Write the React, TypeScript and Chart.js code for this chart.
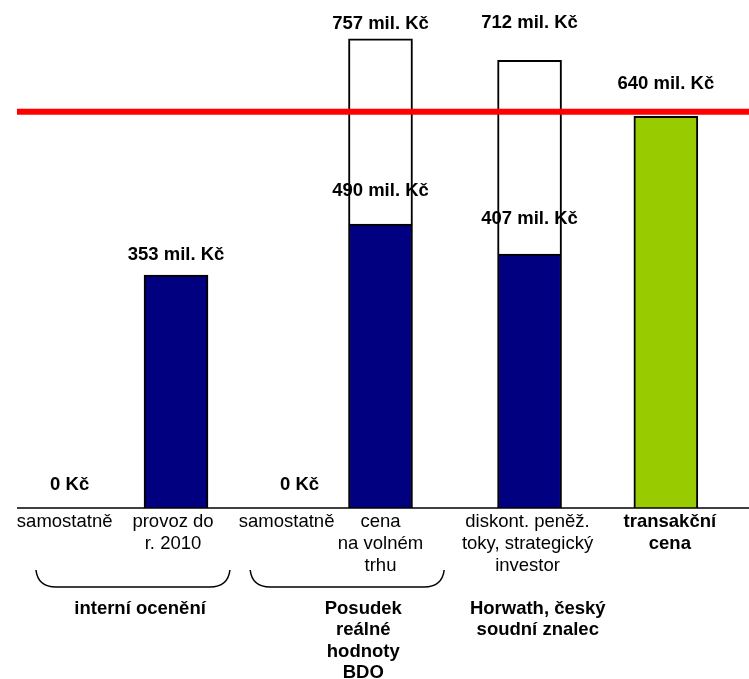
import { useEffect, useRef } from "react";
import { Chart, registerables } from "chart.js";

Chart.register(...registerables);

// categories (multi-line tick labels)
const categories: string[][] = [
  ["samostatně"],
  ["provoz do", "r. 2010"],
  ["samostatně"],
  ["cena", "na volném", "trhu"],
  ["diskont. peněž.", "toky, strategický", "investor"],
  ["transakční", "cena"],
];
// where each category sits on the (unevenly spaced) x axis
const categoryPositions = [0.93, 2.35, 4.0, 5.08, 7.07, 8.89];

// bar heights as drawn (the picture is not to scale with its labels)
const lowerHeights = [0, 367, 0, 447, 400, 0];
const upperHeights = [0, 0, 0, 292, 305, 0];
const transactionHeights = [0, 0, 0, 0, 0, 617];
const redLineLevel = 624;

const lowerLabels = ["0 Kč", "353 mil. Kč", "0 Kč", "490 mil. Kč", "407 mil. Kč", ""];
const topLabels = ["", "", "", "757 mil. Kč", "712 mil. Kč", "640 mil. Kč"];

const groupLabels: string[][] = [
  ["interní ocenění"],
  ["Posudek", "reálné", "hodnoty", "BDO"],
  ["Horwath, český", "soudní znalec"],
];

// layout / style tweaks
const groupCenters = [1.87, 4.85, 7.18];
const braceSpans = [
  [0.48, 3.07],
  [3.34, 5.93],
];
const lowerLift = [23, 20, 23, 33, 35, 0];
const topLift = [0, 0, 0, 15, 37, 32];
const tickNudge = [-5, -3, -13, 0, -2, 4];
const FONT = "'Liberation Sans', Arial, sans-serif";
const FS = 18.5;

const points = (vals: number[]) =>
  vals
    .map((v, i) => ({ x: categoryPositions[i], y: v }))
    .filter((p) => p.y > 0);

const annotate = {
  id: "annotate",
  afterDatasetsDraw(chart: Chart) {
    const { ctx } = chart;
    const x = chart.scales.x;
    const y = chart.scales.y;
    const base = y.getPixelForValue(0);
    ctx.save();

    // red reference line
    const ry = y.getPixelForValue(redLineLevel);
    ctx.strokeStyle = "#ff0000";
    ctx.lineWidth = 6;
    ctx.beginPath();
    ctx.moveTo(17, ry);
    ctx.lineTo(chart.width, ry);
    ctx.stroke();

    // baseline
    ctx.strokeStyle = "#000";
    ctx.lineWidth = 1.5;
    ctx.beginPath();
    ctx.moveTo(17, base);
    ctx.lineTo(chart.width, base);
    ctx.stroke();

    ctx.fillStyle = "#000";
    ctx.textAlign = "center";
    ctx.textBaseline = "middle";

    // value labels
    ctx.font = `bold ${FS}px ${FONT}`;
    categoryPositions.forEach((pos, i) => {
      const cx = x.getPixelForValue(pos);
      if (lowerLabels[i]) {
        const top = y.getPixelForValue(lowerHeights[i] + transactionHeights[i]);
        ctx.fillText(lowerLabels[i], cx, top - lowerLift[i]);
      }
      if (topLabels[i]) {
        const top = y.getPixelForValue(
          lowerHeights[i] + upperHeights[i] + transactionHeights[i]
        );
        ctx.fillText(topLabels[i], cx, top - topLift[i]);
      }
    });

    // category labels
    categories.forEach((lines, i) => {
      const cx = x.getPixelForValue(categoryPositions[i]) + tickNudge[i];
      ctx.font = `${i === categories.length - 1 ? "bold " : ""}${FS}px ${FONT}`;
      lines.forEach((t, j) => ctx.fillText(t, cx, base + 14 + j * 22));
    });

    // braces
    ctx.lineWidth = 1.5;
    braceSpans.forEach(([a, b]) => {
      const x0 = x.getPixelForValue(a);
      const x1 = x.getPixelForValue(b);
      const t = base + 62;
      const bt = base + 79;
      ctx.beginPath();
      ctx.moveTo(x0, t);
      ctx.quadraticCurveTo(x0 + 2, bt, x0 + 20, bt);
      ctx.lineTo(x1 - 20, bt);
      ctx.quadraticCurveTo(x1 - 2, bt, x1, t);
      ctx.stroke();
    });

    // group labels
    ctx.font = `bold ${FS}px ${FONT}`;
    groupLabels.forEach((lines, i) => {
      const cx = x.getPixelForValue(groupCenters[i]);
      lines.forEach((t, j) => ctx.fillText(t, cx, base + 101 + j * 21.3));
    });

    ctx.restore();
  },
};

export default function App() {
  const canvasRef = useRef<HTMLCanvasElement>(null);

  useEffect(() => {
    if (!canvasRef.current) return;
    const chart = new Chart(canvasRef.current, {
      type: "bar",
      data: {
        datasets: [
          {
            label: "spodní",
            data: points(lowerHeights),
            backgroundColor: "#000080",
            borderColor: "#000",
            borderWidth: 2,
            barThickness: 64,
          },
          {
            label: "horní",
            data: points(upperHeights),
            backgroundColor: "#ffffff",
            borderColor: "#000",
            borderWidth: 2,
            barThickness: 64,
          },
          {
            label: "transakční cena",
            data: points(transactionHeights),
            backgroundColor: "#99cc00",
            borderColor: "#000",
            borderWidth: 2,
            barThickness: 64,
          },
        ],
      },
      options: {
        responsive: false,
        animation: false,
        layout: { padding: { top: 0, left: 0, right: 0, bottom: 171 } },
        plugins: {
          legend: { display: false },
          tooltip: { enabled: false },
        },
        scales: {
          x: {
            type: "linear",
            min: 0,
            max: 10,
            offset: false,
            display: false,
            stacked: true,
          },
          y: { min: 0, max: 800, display: false, stacked: true },
        },
      },
      plugins: [annotate],
    });
    return () => chart.destroy();
  }, []);

  return (
    <div style={{ position: "absolute", left: 0, top: 0, width: 749, height: 679, background: "#fff" }}>
      <canvas ref={canvasRef} width={749} height={679} />
    </div>
  );
}
